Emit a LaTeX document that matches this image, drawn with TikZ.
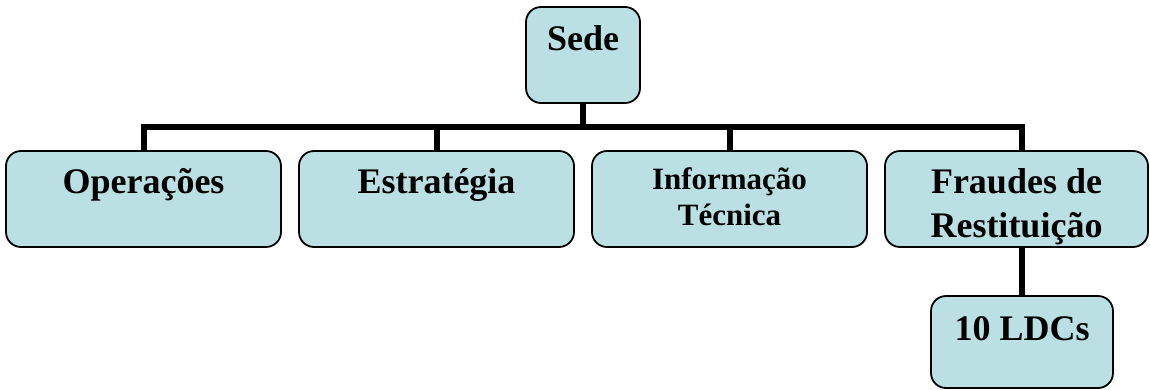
\documentclass[tikz,border=0pt]{standalone}
\usepackage{fontspec}
\setmainfont{Liberation Serif}
\usetikzlibrary{backgrounds}
\definecolor{boxfill}{HTML}{BBE0E3}
\tikzset{
  box/.style={draw=black, line width=1.8pt, fill=boxfill, rounded corners=15pt, inner sep=0pt},
  lbl/.style={font=\bfseries\fontsize{36}{44}\selectfont, align=center, anchor=base, inner sep=0pt},
  lblsmall/.style={font=\bfseries\fontsize{31}{36}\selectfont, align=center, anchor=base, inner sep=0pt},
  conn/.style={draw=black, line width=6pt, line join=miter}
}
\begin{document}
\begin{tikzpicture}[x=1pt, y=-1pt]
\useasboundingbox (0,0) rectangle (1150,389);
\node[box, minimum width=114pt, minimum height=96pt] (sede) at (583,55) {};
\node[box, minimum width=275pt, minimum height=96pt] (op) at (143.5,199) {};
\node[box, minimum width=275pt, minimum height=96pt] (est) at (436.5,199) {};
\node[box, minimum width=275pt, minimum height=96pt] (inf) at (729.5,199) {};
\node[box, minimum width=263pt, minimum height=96pt] (fr) at (1016.5,199) {};
\node[box, minimum width=182pt, minimum height=92pt] (ldc) at (1022,342) {};
\coordinate (bar) at (0,127);

\node[lbl] (tsede) at (583,50) {Sede};
\node[lbl] (top) at (143.5,193) {Operações};
\node[lbl] (test) at (436.5,193) {Estratégia};
\node[lblsmall] (tinf1) at (729.5,189) {Informação};
\node[lblsmall] (tinf2) at (729.5,225) {Técnica};
\node[lbl] (tfr1) at (1016.5,193) {Fraudes de};
\node[lbl] (tfr2) at (1016.5,237) {Restituição};
\node[lbl] (tldc) at (1022,340) {10 LDCs};

\begin{scope}[on background layer]
\draw[conn] (op.north) |- (bar -| ldc.north) -- (fr.north -| ldc.north);
\draw[conn] (est.north) -- (est.north |- bar);
\draw[conn] (inf.north) -- (inf.north |- bar);
\draw[conn] (sede.south) -- (sede.south |- bar);
\draw[conn] (fr.south -| ldc.north) -- (ldc.north);
\end{scope}
\end{tikzpicture}
\end{document}
